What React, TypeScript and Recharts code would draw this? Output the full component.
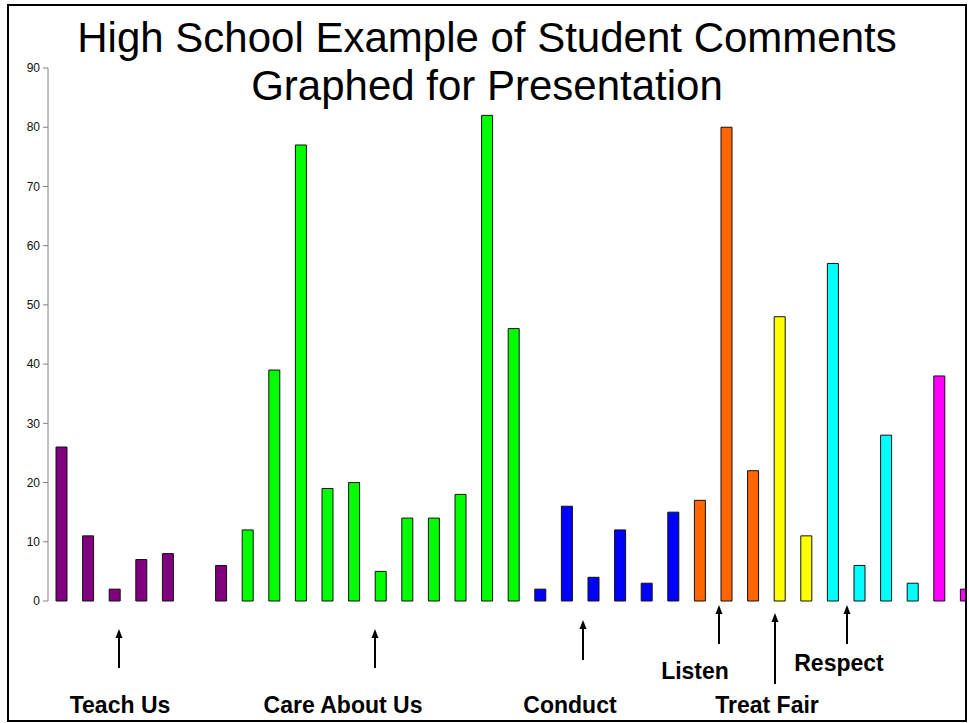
import { Bar, BarChart, Cell, XAxis, YAxis } from "recharts"

// one value per comment category
const values: (number | null)[] = [
  26, 11, 2, 7, 8, null, 6,
  12, 39, 77, 19, 20, 5, 14, 14, 18, 82, 46,
  2, 16, 4, 12, 3, 15,
  17, 80, 22,
  48, 11,
  57, 6, 28, 3,
  38, 2,
]

const groups: string[] = [
  "teach", "teach", "teach", "teach", "teach", "teach", "teach",
  "care", "care", "care", "care", "care", "care", "care", "care", "care", "care", "care",
  "conduct", "conduct", "conduct", "conduct", "conduct", "conduct",
  "listen", "listen", "listen",
  "fair", "fair",
  "respect", "respect", "respect", "respect",
  "other", "other",
]

const groupColors: Record<string, string> = {
  teach: "#800080",
  care: "#00FF00",
  conduct: "#0000FF",
  listen: "#FF6600",
  fair: "#FFFF00",
  respect: "#00FFFF",
  other: "#FF00FF",
}

const yTicks = [0, 10, 20, 30, 40, 50, 60, 70, 80, 90]

// annotation labels with arrows under the bars
const notes = [
  { label: "Teach Us", tx: 120, ty: 713, ax: 119, a1: 629, a2: 668 },
  { label: "Care About Us", tx: 343, ty: 713, ax: 375, a1: 629, a2: 668 },
  { label: "Conduct", tx: 570, ty: 713, ax: 583, a1: 620, a2: 660 },
  { label: "Listen", tx: 695, ty: 679, ax: 719, a1: 605, a2: 644 },
  { label: "Treat Fair", tx: 767, ty: 713, ax: 775, a1: 613, a2: 684 },
  { label: "Respect", tx: 839, ty: 671, ax: 847, a1: 605, a2: 644 },
]

const data = values.map((v, i) => ({ id: String(i + 1), value: v, group: groups[i] }))

export default function App() {
  return (
    <div style={{ position: "absolute", left: 0, top: 0, width: 969, height: 723, fontFamily: "'Liberation Sans', Arial, sans-serif" }}>
      <div
        style={{
          position: "absolute",
          left: 7,
          top: 4,
          width: 960,
          height: 718,
          border: "2px solid #000",
          boxSizing: "border-box",
          overflow: "hidden",
          background: "#fff",
        }}
      >
        <BarChart
          width={970}
          height={700}
          data={data}
          margin={{ top: 62, right: 0, left: 0, bottom: 105 }}
          barCategoryGap={0}
        >
          <XAxis dataKey="id" hide />
          <YAxis
            width={39}
            domain={[0, 90]}
            ticks={yTicks}
            interval={0}
            tickSize={5}
            tickMargin={3}
            axisLine={{ stroke: "#808080" }}
            tickLine={{ stroke: "#808080" }}
            tick={{ fontSize: 12, fill: "#111", fontFamily: "'Liberation Sans', Arial, sans-serif" }}
          />
          <Bar dataKey="value" barSize={11} stroke="#111" strokeWidth={1} isAnimationActive={false}>
            {data.map((d) => (
              <Cell key={d.id} fill={groupColors[d.group]} />
            ))}
          </Bar>
        </BarChart>
      </div>
      <svg
        width={969}
        height={723}
        style={{ position: "absolute", left: 0, top: 0, pointerEvents: "none" }}
      >
        <text x={487} y={52} textAnchor="middle" fontSize={42} fill="#000">
          High School Example of Student Comments
        </text>
        <text x={487} y={100} textAnchor="middle" fontSize={42} fill="#000">
          Graphed for Presentation
        </text>
        {notes.map((n) => (
          <g key={n.label}>
            <line x1={n.ax} y1={n.a1 + 6} x2={n.ax} y2={n.a2} stroke="#000" strokeWidth={2} />
            <polygon points={`${n.ax},${n.a1} ${n.ax - 3.5},${n.a1 + 9} ${n.ax + 3.5},${n.a1 + 9}`} fill="#000" />
            <text x={n.tx} y={n.ty} textAnchor="middle" fontSize={23} fontWeight="bold" fill="#000">
              {n.label}
            </text>
          </g>
        ))}
      </svg>
    </div>
  )
}
